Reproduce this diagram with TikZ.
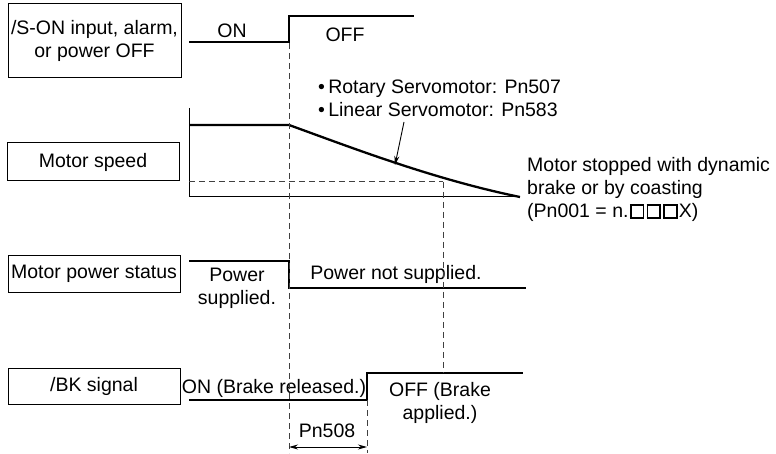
\documentclass[tikz,border=0pt]{standalone}
\usepackage{fontspec}
\setmainfont{Liberation Sans}
\usetikzlibrary{arrows.meta,positioning}

% open square of the parameter digits
\newcommand{\sqbox}{\hspace{1.2pt}{\setlength{\fboxrule}{1.8pt}\setlength{\fboxsep}{0pt}%
  \fbox{\rule{0pt}{11pt}\hspace{11pt}}}\hspace{1pt}}

\begin{document}
\begin{tikzpicture}[x=1pt, y=-1pt,
    font=\fontsize{19.5}{23}\selectfont,
    sigbox/.style={draw, line width=1pt, align=center, inner sep=0pt},
    txt/.style={inner sep=0pt, align=center},
    wave/.style={line width=2.3pt},
    guide/.style={line width=1pt, dash pattern=on 6pt off 4pt, black!75},
    axis/.style={line width=1pt},
    arr/.style={-{Stealth[length=9pt, width=5pt]}, line width=0.9pt}]

    \useasboundingbox (0,0) rectangle (776,454);

    % row labels
    \node[sigbox, minimum width=173pt, minimum height=74pt] (son) at (94.5,41) {/S-ON input, alarm,\\or power OFF};
    \node[sigbox, minimum width=172pt, minimum height=38pt] (spd) at (93,162) {Motor speed};
    \node[sigbox, minimum width=172pt, minimum height=36pt] (pwr) at (94,274) {Motor power status};
    \node[sigbox, minimum width=172pt, minimum height=36pt] (bk) at (94,386) {/BK signal};

    % time marks
    \coordinate (t0) at (189,0);
    \coordinate (t1) at (289,0);
    \coordinate (t2) at (367,0);
    \coordinate (t3) at (443,0);

    % /S-ON waveform
    \draw[wave] (t0 |- 0,42) -- (t1 |- 0,42) -- (t1 |- 0,16) -- (414,16);
    \node[txt] (on) at (232,31) {ON};
    \node[txt] (off) at (345,35) {OFF};

    % motor speed
    \draw[axis] (t0 |- 0,108) -- (t0 |- 0,197) -- (520,197) coordinate (stop);
    \draw[guide] (t0 |- 0,182) -- (t3 |- 0,182);
    \draw[wave] (t0 |- 0,125) -- (t1 |- 0,125) coordinate (dec)
        .. controls (350,147) and (432,179) .. (stop);
    \node[txt, align=left, anchor=west] (pn507) at (318,98)
        {\textbullet\,Rotary Servomotor: Pn507\\\textbullet\,Linear Servomotor: Pn583};
    \coordinate (tip) at (395,165);
    \draw[arr] (404,122) -- (tip);
    \node[txt, align=left, anchor=west] (dyn) at (527,189)
        {Motor stopped with dynamic\\brake or by coasting\\(Pn001 = n.\sqbox\sqbox\sqbox X)};

    % motor power status
    \draw[wave] (t0 |- 0,261) -- (t1 |- 0,261) -- (t1 |- 0,288) -- (526,288);
    \node[txt] (sup) at (237,288) {Power\\supplied.};
    \node[txt] (nsup) at (396,274) {Power not supplied.};

    % /BK signal
    \draw[wave] (t0 |- 0,400) -- (t2 |- 0,400) -- (t2 |- 0,373) -- (523,373);
    \node[txt] (rel) at (274,388) {ON (Brake released.)};
    \node[txt] (app) at (440,403) {OFF (Brake\\applied.)};

    % guides
    \draw[guide] (t1 |- 0,43) -- (t1 |- 0,453);
    \draw[guide] (t3 |- 0,182) -- (t3 |- 0,373);
    \draw[guide] (t2 |- 0,400) -- (t2 |- 0,453);

    % Pn508 delay
    \draw[{Stealth[length=9pt, width=5pt]}-{Stealth[length=9pt, width=5pt]}, line width=0.9pt]
        (t1 |- 0,447) -- (t2 |- 0,447);
    \node[txt] (pn508) at (327,431) {Pn508};
\end{tikzpicture}
\end{document}
